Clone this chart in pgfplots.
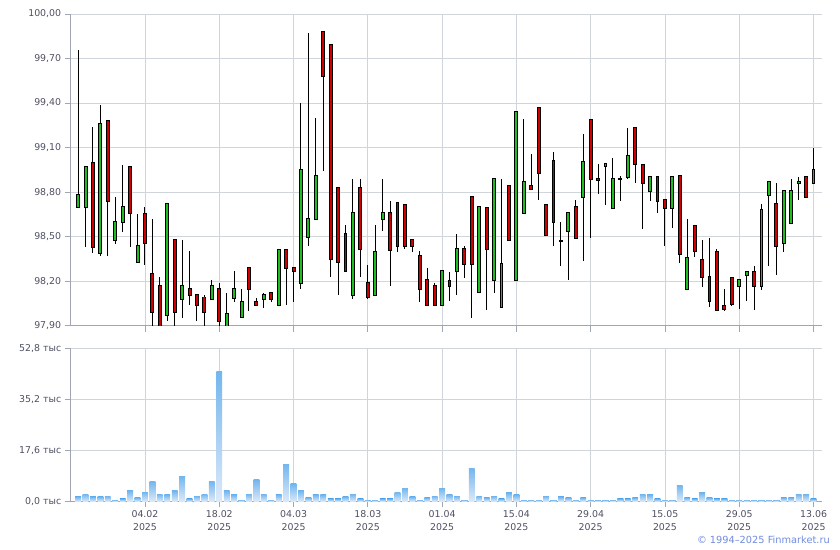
\documentclass[border=0pt]{standalone}
\usepackage{fontspec}
\setmainfont{DejaVu Sans}
\usepackage{pgfplots}
\pgfplotsset{compat=1.18}
\usepackage{pgfplotstable}

\definecolor{gridc}{RGB}{208,213,219}
\definecolor{axc}{RGB}{160,166,178}
\definecolor{lblc}{RGB}{78,80,98}
\definecolor{upc}{RGB}{30,190,30}
\definecolor{dnc}{RGB}{208,0,0}
\definecolor{vtop}{RGB}{115,182,238}
\definecolor{vbot}{RGB}{220,233,248}
\definecolor{copyc}{RGB}{112,140,222}

\pgfplotstableread{
x O H L C V
0 98.70 99.76 98.69 98.78 1.5
1 98.70 98.97 98.43 98.97 2.5
2 99.00 99.24 98.39 98.43 1.5
3 98.39 99.39 98.37 99.26 1.5
4 99.28 99.28 98.37 98.74 1.8
5 98.48 98.77 98.45 98.60 0.5
6 98.60 98.98 98.53 98.70 0.8
7 98.97 98.97 98.43 98.66 3.6
8 98.33 98.65 98.33 98.44 1.2
9 98.65 98.70 98.31 98.46 3.2
10 98.25 98.62 97.88 97.99 7.0
11 98.17 98.23 97.88 97.90 2.5
12 97.97 98.72 97.93 98.72 2.2
13 98.48 98.48 97.88 97.99 3.6
14 98.08 98.48 97.95 98.17 8.7
15 98.15 98.40 98.04 98.11 0.8
16 98.11 98.11 97.93 98.04 1.8
17 98.09 98.11 97.88 97.99 2.5
18 98.08 98.21 98.08 98.17 7.0
19 98.15 98.19 97.88 97.93 45.0
20 97.90 98.12 97.90 97.98 3.6
21 98.09 98.27 98.06 98.15 2.2
22 97.96 98.15 97.95 98.06 0.5
23 98.29 98.29 98.00 98.15 2.5
24 98.06 98.09 98.04 98.04 7.4
25 98.08 98.12 98.02 98.11 2.5
26 98.12 98.12 98.06 98.08 0.5
27 98.04 98.41 98.04 98.41 2.2
28 98.41 98.41 98.04 98.29 12.9
29 98.29 98.29 98.06 98.27 6.0
30 98.19 99.40 98.15 98.95 3.6
31 98.50 99.87 98.44 98.62 1.2
32 98.62 99.30 98.62 98.91 2.2
33 99.88 99.88 98.94 99.58 2.2
34 99.79 99.79 98.23 98.35 0.8
35 98.83 98.83 98.11 98.33 0.8
36 98.52 98.58 98.27 98.27 1.5
37 98.11 98.89 98.08 98.66 2.5
38 98.83 98.89 98.23 98.42 0.8
39 98.19 98.31 98.08 98.09 0.5
40 98.11 98.58 98.11 98.40 0.5
41 98.62 98.89 98.54 98.66 0.8
42 98.66 98.74 98.17 98.41 0.8
43 98.73 98.73 98.40 98.44 3.2
44 98.71 98.71 98.42 98.44 4.6
45 98.48 98.48 98.40 98.44 1.5
46 98.37 98.40 98.06 98.15 0.5
47 98.21 98.29 98.04 98.04 1.2
48 98.17 98.19 98.04 98.04 1.8
49 98.04 98.27 98.04 98.27 4.6
50 98.20 98.26 98.07 98.17 2.2
51 98.27 98.52 98.11 98.42 1.8
52 98.42 98.44 98.22 98.32 0.5
53 98.77 98.77 97.95 98.32 11.5
54 98.13 98.70 98.13 98.70 1.8
55 98.69 98.70 98.01 98.42 1.2
56 98.21 98.89 98.12 98.89 1.8
57 98.03 98.89 98.03 98.32 0.8
58 98.84 98.84 98.48 98.48 2.9
59 98.21 99.34 98.20 99.34 2.2
60 98.66 99.29 98.66 98.87 0.5
61 98.84 99.06 98.82 98.82 0.5
62 99.37 99.37 98.75 98.93 0.5
63 98.71 98.71 98.51 98.51 1.8
64 99.01 99.07 98.44 98.60 0.5
65 98.47 98.60 98.30 98.47 1.5
66 98.54 98.67 98.21 98.66 1.2
67 98.70 98.75 98.49 98.49 0.5
68 98.77 99.19 98.34 99.00 1.2
69 99.29 99.29 98.49 98.89 0.5
70 98.89 98.99 98.79 98.88 0.5
71 98.98 98.99 98.71 98.99 0.5
72 98.69 99.03 98.69 98.89 0.5
73 98.89 98.91 98.74 98.89 0.8
74 98.90 99.23 98.89 99.04 0.8
75 99.23 99.23 98.86 98.99 1.2
76 98.98 98.98 98.55 98.86 2.5
77 98.81 98.90 98.74 98.90 2.2
78 98.90 98.90 98.66 98.74 0.8
79 98.75 98.75 98.44 98.69 0.5
80 98.69 98.90 98.56 98.90 0.5
81 98.91 98.91 98.32 98.38 5.6
82 98.15 98.62 98.15 98.36 1.2
83 98.57 98.58 98.36 98.40 0.8
84 98.34 98.48 98.16 98.23 2.9
85 98.23 98.49 98.03 98.07 1.2
86 98.40 98.42 98.01 98.01 0.8
87 98.03 98.15 98.00 98.01 0.8
88 98.22 98.22 98.03 98.05 0.5
89 98.17 98.21 98.01 98.21 0.5
90 98.24 98.26 98.07 98.26 0.5
91 98.26 98.30 98.01 98.17 0.5
92 98.17 98.72 98.14 98.68 0.5
93 98.78 98.87 98.30 98.87 0.5
94 98.72 98.86 98.24 98.44 0.5
95 98.46 98.81 98.40 98.81 1.2
96 98.59 98.89 98.59 98.81 1.2
97 98.86 98.90 98.75 98.87 2.5
98 98.90 98.90 98.77 98.77 2.5
99 98.86 99.10 98.86 98.95 0.8
}\data

\newcommand\tf{\fontsize{9.4bp}{12.5bp}\selectfont}

\begin{document}
\begin{tikzpicture}
\path[use as bounding box] (0,0) rectangle (840bp,550bp);
\pgfplotsset{
  every axis/.append style={
    scale only axis, width=751bp,
    xmin=-1, xmax=100.1,
    axis x line*=bottom, axis y line*=left,
    axis line style={-, draw=axc, line width=0.8bp},
    every outer x axis line/.append style={-},
    every outer y axis line/.append style={-},
    tick align=outside, major tick length=6bp,
    tick style={draw=axc, line width=0.8bp},
    grid=major, grid style={draw=gridc, line width=0.8bp},
    ticklabel style={font=\tf, text=lblc},
    xtick={9,19,...,99},
    /pgf/number format/assume math mode=true,
  },
  candle/.style n args={2}{draw=none, mark=none, forget plot,
    error bars/.cd, y dir=both, y explicit, error mark=none,
    error bar style={draw=#1, line width=#2}},
}
% price panel
\begin{axis}[
  at={(70.7bp,224.3bp)}, anchor=south west, height=311.7bp,
  ymin=97.9, ymax=100,
  ytick={97.9,98.2,98.5,98.8,99.1,99.4,99.7,100},
  yticklabel style={/pgf/number format/.cd, fixed, fixed zerofill, precision=2, use comma},
  xticklabels={},
]
\addplot[candle={black}{1bp}]
  table[x=x, y expr={(\thisrow{H}+\thisrow{L})/2}, y error expr={(\thisrow{H}-\thisrow{L})/2}] {\data};
\addplot[candle={black}{3.9bp}]
  table[x=x, y expr={(\thisrow{O}+\thisrow{C})/2}, y error expr={abs(\thisrow{C}-\thisrow{O})/2+0.0067}] {\data};
\addplot[candle={upc}{1.9bp}]
  table[x=x, y expr={(\thisrow{O}+\thisrow{C})/2}, y error expr={max(\thisrow{C}-\thisrow{O},0)/2}] {\data};
\addplot[candle={dnc}{1.9bp}]
  table[x=x, y expr={(\thisrow{O}+\thisrow{C})/2}, y error expr={max(\thisrow{O}-\thisrow{C},0)/2}] {\data};
\end{axis}
% volume panel
\begin{axis}[
  at={(70.7bp,48.7bp)}, anchor=south west, height=152.6bp,
  ymin=0, ymax=52.8,
  ytick={0,17.6,35.2,52.8},
  yticklabels={{0,0 тыс},{17,6 тыс},{35,2 тыс},{52,8 тыс}},
  xticklabels={{04.02\\2025},{18.02\\2025},{04.03\\2025},{18.03\\2025},{01.04\\2025},{15.04\\2025},{29.04\\2025},{15.05\\2025},{29.05\\2025},{13.06\\2025}},
  xticklabel style={align=center},
]
\pgfplotsinvokeforeach{0,...,99}{
  \addplot[ybar, bar width=5.8bp, draw=none, top color=vtop, bottom color=vbot,
    x filter/.expression={abs(x-#1)<0.3 ? x : nan}] table[x=x, y=V] {\data};
}
\end{axis}
\node[anchor=east, font=\fontsize{9.8bp}{12bp}\selectfont, text=copyc, inner sep=0pt] at (830bp,10bp) {© 1994–2025 Finmarket.ru};
\end{tikzpicture}
\end{document}
